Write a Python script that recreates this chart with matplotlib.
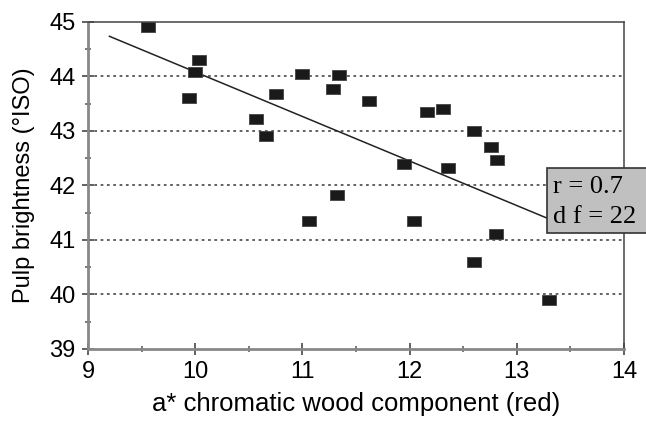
import numpy as np
import matplotlib.pyplot as plt
from matplotlib.ticker import MultipleLocator
from matplotlib.patches import Rectangle

plt.rcParams['font.family'] = ['Liberation Sans', 'DejaVu Sans']

# a* (red) and pulp brightness values
a_red = [9.56, 9.94, 10.0, 10.04, 10.57, 10.66, 10.75, 11.0, 11.06, 11.29, 11.34, 11.32,
         11.62, 11.95, 12.04, 12.16, 12.31, 12.36, 12.60, 12.60, 12.76, 12.82, 12.81, 13.30]
brightness = [44.91, 43.61, 44.08, 44.30, 43.22, 42.91, 43.68, 44.05, 41.35, 43.77, 44.03, 41.83,
              43.55, 42.39, 41.35, 43.35, 43.40, 42.32, 43.00, 40.60, 42.71, 42.47, 41.11, 39.90]
trend_range = [9.2, 13.5]
stats_lines = ['r = 0.7', 'd f = 22']

x = np.array(a_red)
y = np.array(brightness)
slope, icpt = np.polyfit(x, y, 1)

fig = plt.figure(figsize=(6.46, 4.28), dpi=100)
ax = fig.add_axes([0.1362, 0.1846, 0.8297, 0.764])

for v in [40, 41, 42, 43, 44]:
    ax.axhline(v, color='#555555', lw=1.3, ls=(0, (1.5, 2)), zorder=1)

xt = np.array(trend_range)
ax.plot(xt, slope * xt + icpt, color='#222222', lw=1.1, zorder=2)

rect = [(-1.4, -1), (1.4, -1), (1.4, 1), (-1.4, 1), (-1.4, -1)]
ax.plot(x, y, ls='none', marker=rect, ms=10, mfc='#1a1a1a', mec='#444444', mew=0.6, zorder=3)

ax.set_xlim(9, 14)
ax.set_ylim(39, 45)
ax.xaxis.set_major_locator(MultipleLocator(1))
ax.xaxis.set_minor_locator(MultipleLocator(0.5))
ax.yaxis.set_major_locator(MultipleLocator(1))
ax.yaxis.set_minor_locator(MultipleLocator(0.5))
ax.tick_params(which='major', direction='inout', length=8, width=1.3, color='#555555',
               labelsize=17, pad=5)
ax.tick_params(which='minor', direction='inout', length=5, width=1.1, color='#555555')

for s in ['left', 'bottom']:
    ax.spines[s].set_color('#888888')
    ax.spines[s].set_linewidth(2)
for s in ['top', 'right']:
    ax.spines[s].set_color('#444444')
    ax.spines[s].set_linewidth(1.1)

ax.set_xlabel('a* chromatic wood component (red)', fontsize=18.5, labelpad=6)
ax.set_ylabel('Pulp brightness (°ISO)', fontsize=17, labelpad=10)

# stats box, running off the right edge of the figure
fig.patches.append(Rectangle((0.847, 0.456), 0.2, 0.152, transform=fig.transFigure,
                             fc='#c0c0c0', ec='#333333', lw=1.2, zorder=4))
fig.text(0.856, 0.549, stats_lines[0], fontsize=19, family='Liberation Serif',
         va='baseline', ha='left', zorder=5)
fig.text(0.856, 0.479, stats_lines[1], fontsize=19, family='Liberation Serif',
         va='baseline', ha='left', zorder=5)

fig.savefig('out.png', dpi=100)
